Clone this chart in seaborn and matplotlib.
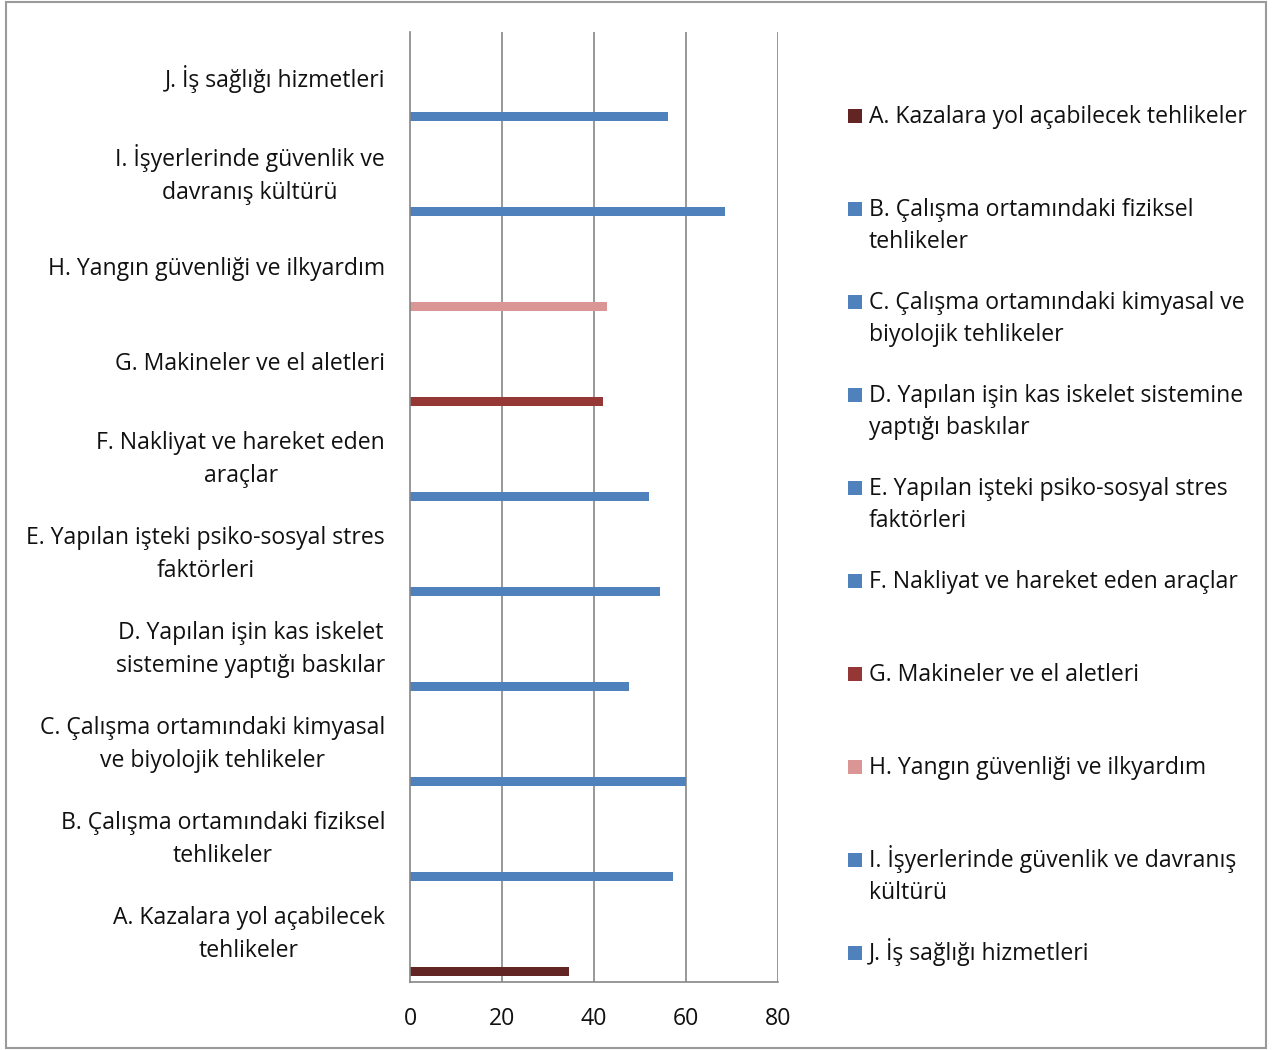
import numpy as np
import pandas as pd
import matplotlib
matplotlib.use("Agg")
import matplotlib.pyplot as plt
from matplotlib.patches import Rectangle
from matplotlib.ticker import FixedLocator
import seaborn as sns

# Data
codes = ["A", "B", "C", "D", "E", "F", "G", "H", "I", "J"]
values = [34.5, 57.1, 60.0, 47.5, 54.3, 51.9, 42.0, 42.9, 68.5, 56.0]
axis_labels = [
    "A. Kazalara yol açabilecek\ntehlikeler",
    "B. Çalışma ortamındaki fiziksel\ntehlikeler",
    "C. Çalışma ortamındaki kimyasal\nve biyolojik tehlikeler",
    "D. Yapılan işin kas iskelet\nsistemine yaptığı baskılar",
    "E. Yapılan işteki psiko-sosyal stres\nfaktörleri",
    "F. Nakliyat ve hareket eden\naraçlar",
    "G. Makineler ve el aletleri",
    "H. Yangın güvenliği ve ilkyardım",
    "I. İşyerlerinde güvenlik ve\ndavranış kültürü",
    "J. İş sağlığı hizmetleri",
]
legend_labels = [
    "A. Kazalara yol açabilecek tehlikeler",
    "B. Çalışma ortamındaki fiziksel\ntehlikeler",
    "C. Çalışma ortamındaki kimyasal ve\nbiyolojik tehlikeler",
    "D. Yapılan işin kas iskelet sistemine\nyaptığı baskılar",
    "E. Yapılan işteki psiko-sosyal stres\nfaktörleri",
    "F. Nakliyat ve hareket eden araçlar",
    "G. Makineler ve el aletleri",
    "H. Yangın güvenliği ve ilkyardım",
    "I. İşyerlerinde güvenlik ve davranış\nkültürü",
    "J. İş sağlığı hizmetleri",
]
x_ticks = [0, 20, 40, 60, 80]

# colours per series
colors = ["#632523", "#4F81BD", "#4F81BD", "#4F81BD", "#4F81BD",
          "#4F81BD", "#953735", "#D99694", "#4F81BD", "#4F81BD"]

df = pd.DataFrame({"code": codes, "value": values})
palette = dict(zip(codes, colors))
order = codes[::-1]  # J on top, A at bottom

sns.set_style("white")
plt.rcParams["font.family"] = ["Open Sans", "DejaVu Sans"]
FS = 16.6
LS = 1.445
LINE_PX = 32
TXT = "#111111"
GRAY = "#868686"

W, H = 1275, 1050
fig = plt.figure(figsize=(W / 100, H / 100), dpi=100)
ax = fig.add_axes([410 / W, 1 - 982 / H, 368 / W, 950 / H])

sns.barplot(data=df, x="value", y="code", order=order, hue="code",
            palette=palette, saturation=1, width=0.092, legend=False,
            orient="h", ax=ax)

# Excel puts each bar at the bottom of its category band
for p in ax.patches:
    p.set_y(p.get_y() + 0.392)
    p.set_linewidth(0)

ax.set_xlim(0, 80)
ax.set_ylim(9.5, -0.5)
ax.set_xlabel("")
ax.set_ylabel("")

# vertical gridlines
ax.set_xticks(x_ticks)
ax.set_xticklabels([str(t) for t in x_ticks], fontsize=FS, color=TXT)
for t in x_ticks[1:]:
    ax.axvline(t, color=GRAY, lw=1.2, zorder=0)

for s in ["top", "right"]:
    ax.spines[s].set_visible(False)
for s in ["left", "bottom"]:
    ax.spines[s].set_color(GRAY)
    ax.spines[s].set_linewidth(1.2)

ax.tick_params(axis="x", length=6, width=1.2, color=GRAY, pad=12)

label_map = dict(zip(codes, axis_labels))
ax.set_yticks(range(len(order)))
ax.set_yticklabels([label_map[c] for c in order], fontsize=FS,
                   linespacing=LS, color=TXT, va="center")
for lbl in ax.get_yticklabels():
    lbl.set_multialignment("center")
ax.tick_params(axis="y", which="major", length=0, pad=18)
ax.yaxis.set_minor_locator(FixedLocator(np.arange(-0.5, 10, 1)))
ax.tick_params(axis="y", which="minor", length=6, width=1.2, color=GRAY)

# legend drawn by hand to keep the fixed row pitch of the original
for i, (lab, col) in enumerate(zip(legend_labels, colors)):
    yc = 116 + 93 * i
    n_extra = lab.count("\n")
    fig.patches.append(Rectangle((848 / W, 1 - (yc + 7) / H), 14 / W, 14 / H,
                                 transform=fig.transFigure, facecolor=col,
                                 edgecolor="none"))
    # baseline of the last line
    fig.text(869 / W, 1 - (yc + 7 + LINE_PX * n_extra) / H, lab, fontsize=FS,
             va="baseline", ha="left", linespacing=LS, color=TXT)

# chart border
fig.patches.append(Rectangle((6 / W, 2 / H), 1260 / W, 1046 / H,
                             transform=fig.transFigure, fill=False,
                             edgecolor="#9A9A9A", lw=1.5))

fig.savefig("out.png", dpi=100)
